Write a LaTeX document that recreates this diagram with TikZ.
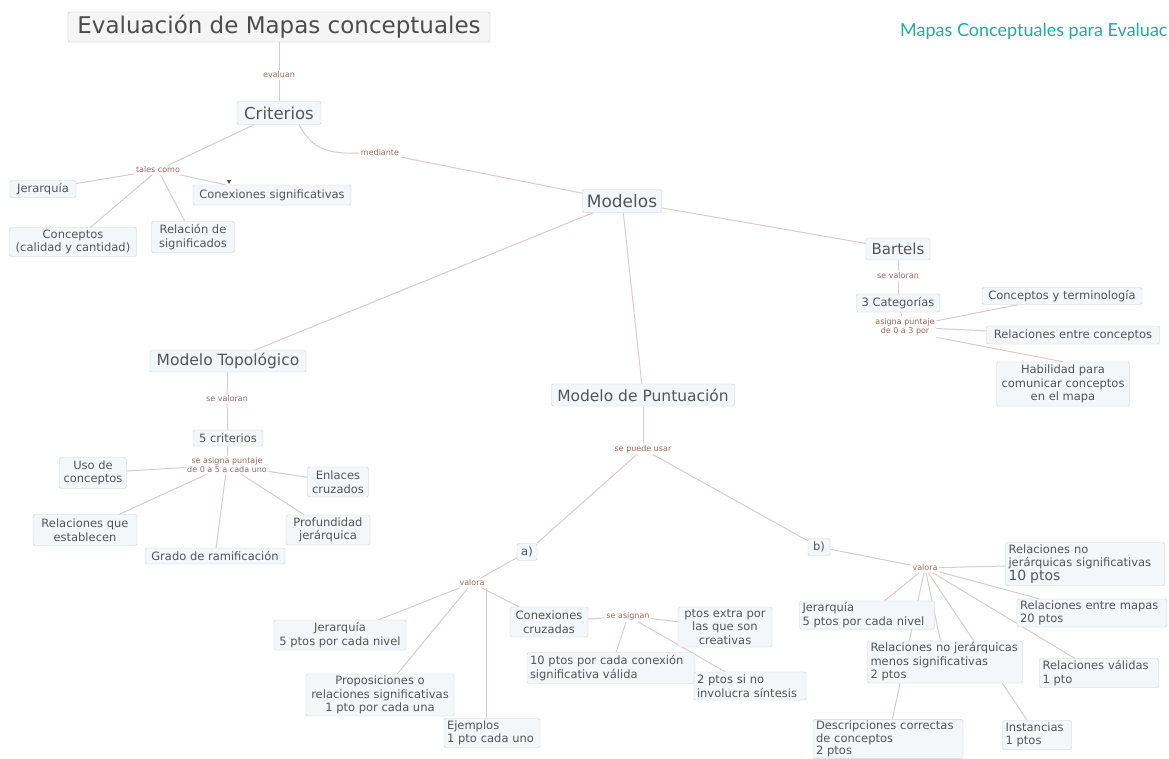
\documentclass[tikz,border=0pt]{standalone}
\usepackage{fontspec}
\newfontfamily\dv{DejaVu Sans}
\newfontfamily\lato{Lato}
\usetikzlibrary{arrows.meta,backgrounds}
\definecolor{bdr}{RGB}{208,208,208}
\definecolor{bfill}{RGB}{244,247,249}
\definecolor{tfill}{RGB}{245,245,245}
\definecolor{tbdr}{RGB}{190,190,190}
\definecolor{txt}{RGB}{85,85,85}
\definecolor{lblc}{RGB}{150,105,105}
\definecolor{linec}{RGB}{218,204,204}
\definecolor{teal}{RGB}{26,175,160}
\tikzset{
  box/.style={draw=bdr, fill=bfill, rounded corners=1.5pt, text=txt,
    font=\dv\fontsize{11.5}{13.5}\selectfont, inner xsep=3pt, inner ysep=1.5pt, align=center},
  lbox/.style={box, text width=#1, align=left},
  medium/.style={font=\dv\fontsize{15.5}{18}\selectfont},
  lbl/.style={font=\dv\fontsize{8}{9.5}\selectfont, text=lblc, inner sep=1.5pt, align=center},
  conn/.style={draw=linec, line width=1pt}
}
\begin{document}
\begin{tikzpicture}[x=1pt,y=-1pt]
\useasboundingbox (0,0) rectangle (1169,758);
\clip (0,0) rectangle (1169,758);

\node[anchor=west, text=teal, font=\lato\fontsize{18}{20}\selectfont, inner sep=0pt] (hdr) at (900,31) {Mapas Conceptuales para Evaluac};

\node[box, fill=tfill, draw=tbdr, text=txt!90!black, font=\dv\fontsize{23}{26}\selectfont, minimum width=422pt, minimum height=30pt] (title) at (279,27) {Evaluación de Mapas conceptuales};
\node[lbl] (evl) at (279,75) {evaluan};
\node[box, font=\dv\fontsize{16.5}{19}\selectfont, minimum width=84pt, minimum height=23pt] (crit) at (279,113) {Criterios};
\node[lbl] (tales) at (158,170) {tales como};
\node[lbl] (medi) at (380,153) {mediante};
\node[box, minimum width=66pt, minimum height=17pt] (jer1) at (43,189) {Jerarquía};
\node[box, minimum width=127pt, minimum height=29pt] (conc) at (73,242) {Conceptos\\(calidad y cantidad)};
\node[box, minimum width=83pt, minimum height=31pt] (relsig) at (193,237) {Relación de\\significados};
\node[box, minimum width=158pt, minimum height=20pt] (conx) at (272,195) {Conexiones significativas};

\node[box, font=\dv\fontsize{17}{20}\selectfont, minimum width=79pt, minimum height=23pt] (mod) at (622,201) {Modelos};

\node[box, font=\dv\fontsize{15}{18}\selectfont, minimum width=64pt, minimum height=22pt] (bart) at (898,249) {Bartels};
\node[lbl] (sevB) at (898,276) {se valoran};
\node[box, minimum width=83pt, minimum height=18pt] (cat) at (898,303) {3 Categorías};
\node[lbl] (asig) at (905,327) {asigna puntaje\\de 0 a 3 por};
\node[box, minimum width=160pt, minimum height=17pt] (cyt) at (1062,296) {Conceptos y terminología};
\node[box, minimum width=173pt, minimum height=18pt] (rec) at (1073,335) {Relaciones entre conceptos};
\node[box, minimum width=133pt, minimum height=44pt] (hab) at (1063,384) {Habilidad para\\comunicar conceptos\\en el mapa};

\node[box, medium, minimum width=156pt, minimum height=22pt] (topo) at (228,361) {Modelo Topológico};
\node[lbl] (sevT) at (227,399) {se valoran};
\node[box, minimum width=70pt, minimum height=16pt] (cinco) at (228,438) {5 criterios};
\node[lbl] (asigT) at (227,465) {se asigna puntaje\\de 0 a 5 a cada uno};
\node[box, minimum width=67pt, minimum height=31pt] (uso) at (93,473) {Uso de\\conceptos};
\node[box, minimum width=61pt, minimum height=30pt] (enl) at (338,482) {Enlaces\\cruzados};
\node[box, minimum width=104pt, minimum height=31pt] (rqe) at (85,530) {Relaciones que\\establecen};
\node[box, minimum width=84pt, minimum height=30pt] (prof) at (328,530) {Profundidad\\jerárquica};
\node[box, minimum width=140pt, minimum height=16pt] (grado) at (215,556) {Grado de ramificación};

\node[box, medium, minimum width=183pt, minimum height=22pt] (punt) at (643,395) {Modelo de Puntuación};
\node[lbl] (spu) at (643,449) {se puede usar};
\node[box, minimum width=20pt, minimum height=17pt] (a) at (527,552) {a)};
\node[box, minimum width=22pt, minimum height=17pt] (b) at (819,547) {b)};

\node[lbl] (valA) at (472,583) {valora};
\node[box, minimum width=132pt, minimum height=30pt] (jerA) at (340,635) {Jerarquía\\5 ptos por cada nivel};
\node[box, minimum width=148pt, minimum height=42pt] (prop) at (380,695) {Proposiciones o\\relaciones significativas\\1 pto por cada una};
\node[lbox=90pt, minimum height=29pt] (ejem) at (492,733) {Ejemplos\\1 pto cada uno};
\node[box, minimum width=78pt, minimum height=30pt] (ccr) at (549,622) {Conexiones\\cruzadas};
\node[lbl] (sas) at (628,616) {se asignan};
\node[box, minimum width=94pt, minimum height=40pt] (extra) at (725,627) {ptos extra por\\las que son\\creativas};
\node[lbox=162pt, minimum height=31pt] (diez) at (611,668) {10 ptos por cada conexión\\significativa válida};
\node[lbox=106pt, minimum height=28pt] (dos) at (750,686) {2 ptos si no\\involucra síntesis};

\node[lbl] (valB) at (925,568) {valora};
\node[lbox=153pt, minimum height=43pt] (rnjs) at (1085,564) {Relaciones no\\jerárquicas significativas\\{\fontsize{14}{16}\selectfont 10 ptos}};
\node[lbox=129pt, minimum height=26pt] (jerB) at (867,615) {Jerarquía\\5 ptos por cada nivel};
\node[lbox=144pt, minimum height=28pt] (rem) at (1092,613) {Relaciones entre mapas\\20 ptos};
\node[lbox=149pt, minimum height=42pt] (rnjm) at (945,662) {Relaciones no jerárquicas\\menos significativas\\2 ptos};
\node[lbox=113pt, minimum height=29pt] (rval) at (1099,673) {Relaciones válidas\\1 pto};
\node[lbox=144pt, font=\dv\fontsize{11.5}{12.5}\selectfont, minimum height=39pt] (desc) at (888,739) {Descripciones correctas\\de conceptos\\2 ptos};
\node[lbox=63pt, minimum height=29pt] (inst) at (1037,735) {Instancias\\1 ptos};

\begin{scope}[on background layer]
  \fill[white] (0,0) rectangle (1169,758);
  \draw[conn] (title) -- (evl);
  \draw[conn] (evl) -- (crit);
  \draw[conn] (crit) -- (tales);
  \draw[conn] (tales) -- (jer1);
  \draw[conn] (tales) -- (conc);
  \draw[conn] (tales) -- (relsig);
  \draw[conn] (tales) -- (conx);
  \draw[conn] ([xshift=-22pt]crit.south east) .. controls (312,150) and (330,154) .. (medi.west);
  \draw[conn] (medi) -- (mod);
  \draw[conn] (mod) -- (bart);
  \draw[conn] (mod) -- (topo);
  \draw[conn] (mod) -- (punt);
  \draw[conn] (bart) -- (sevB);
  \draw[conn] (sevB) -- (cat);
  \draw[conn] (cat) -- (asig);
  \draw[conn] (asig) -- (cyt);
  \draw[conn] (asig) -- (rec);
  \draw[conn] (asig.south east) -- (hab.north);
  \draw[conn] (topo) -- (sevT);
  \draw[conn] (sevT) -- (cinco);
  \draw[conn] (cinco) -- (asigT);
  \draw[conn] (asigT) -- (uso);
  \draw[conn] (asigT) -- (enl);
  \draw[conn] (asigT) -- (rqe);
  \draw[conn] (asigT) -- (prof);
  \draw[conn] (asigT) -- (grado);
  \draw[conn] (punt) -- (spu);
  \draw[conn] (spu) -- (a);
  \draw[conn] (spu) -- (b);
  \draw[conn] (a) -- (valA);
  \draw[conn] (valA) -- (jerA);
  \draw[conn] (valA) -- (prop);
  \draw[conn] ([xshift=14pt]valA.south) -- ([xshift=-6pt]ejem.north);
  \draw[conn] (valA) -- (ccr);
  \draw[conn] (ccr) -- (sas);
  \draw[conn] (sas) -- (extra);
  \draw[conn] (sas) -- (diez);
  \draw[conn] (sas) -- (dos);
  \draw[conn] (b) -- (valB);
  \draw[conn] (valB) -- (rnjs);
  \draw[conn] (valB) -- (jerB);
  \draw[conn] (valB) -- (rem);
  \draw[conn] (valB) -- (rnjm);
  \draw[conn] (valB) -- (rval);
  \draw[conn] (valB) -- (desc);
  \draw[conn] (valB) -- (inst);
\end{scope}
\fill[txt] (229,184) -- ++(-2.2,-4) -- ++(4.4,0) -- cycle;
\end{tikzpicture}
\end{document}
